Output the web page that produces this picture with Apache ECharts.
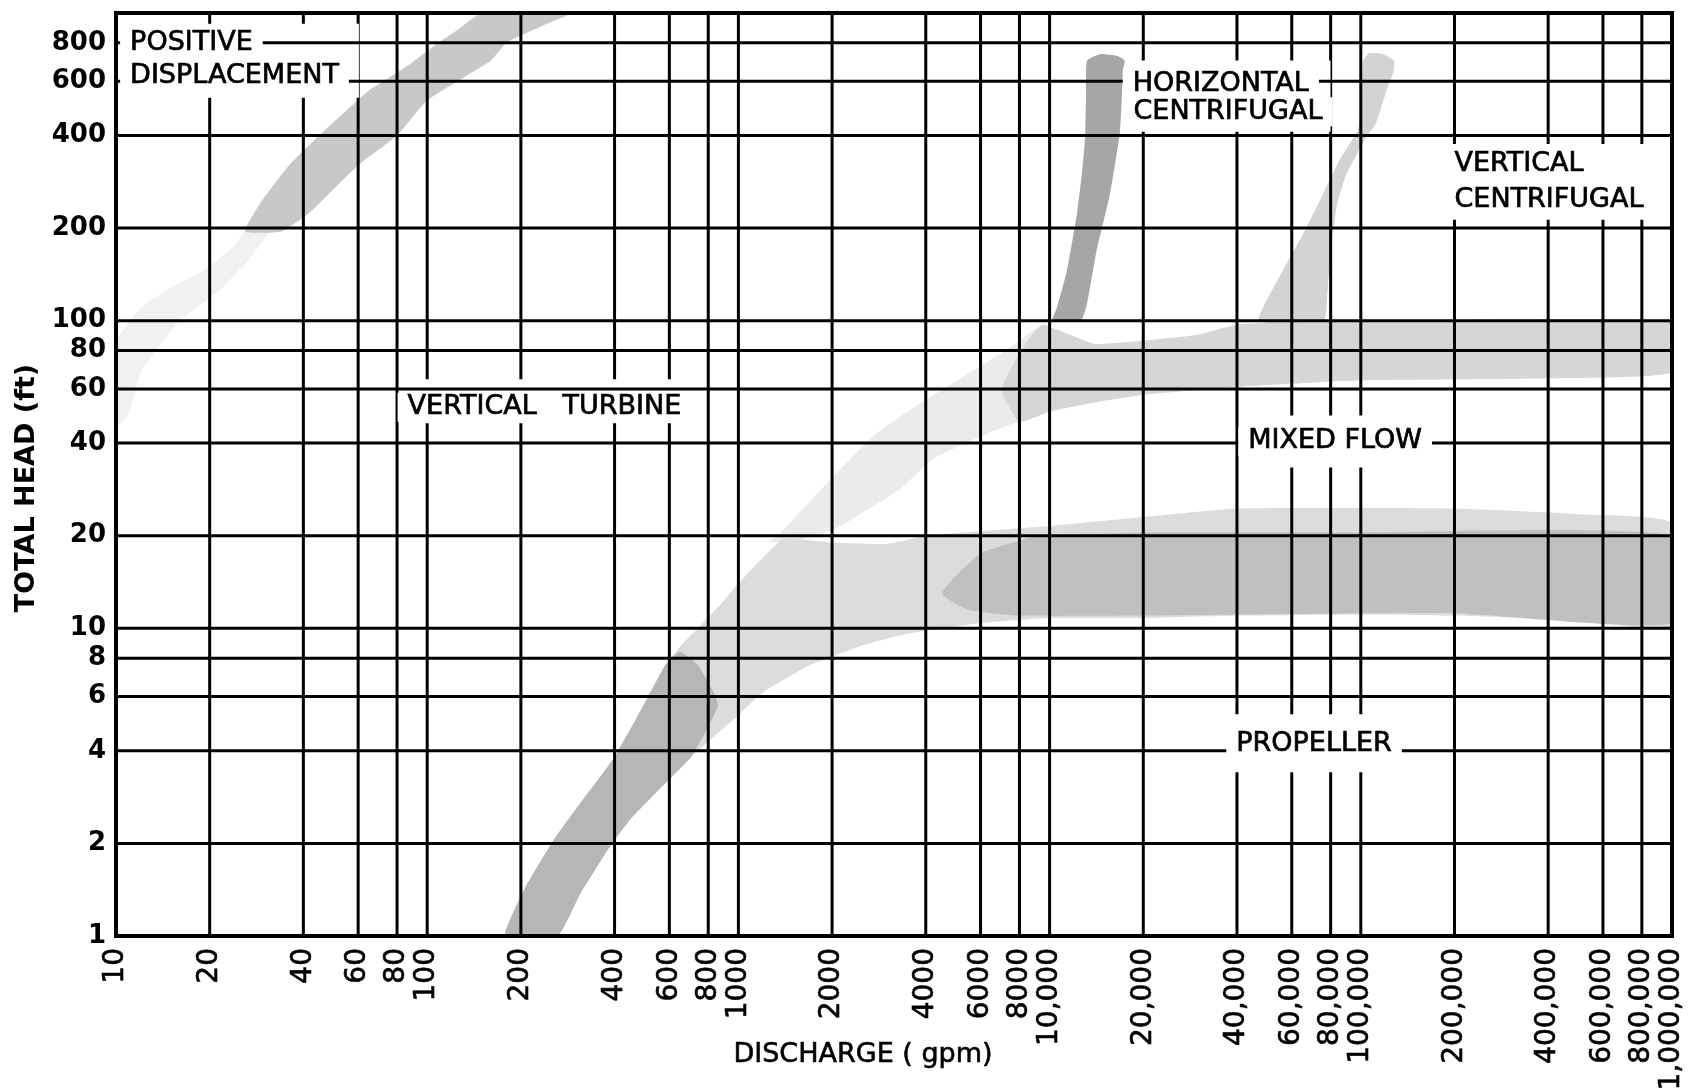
<!DOCTYPE html>
<html>
<head>
<meta charset="utf-8">
<script src="https://cdn.jsdelivr.net/npm/echarts@6/dist/echarts.min.js"></script>
<style>
html,body{margin:0;padding:0;background:#fff;}
#chart{width:1695px;height:1092px;}
</style>
</head>
<body>
<div id="chart"></div>
<script>
// ---------- axis ticks ----------
const xTickValues = [10,20,40,60,80,100,200,400,600,800,1000,2000,4000,6000,8000,10000,20000,40000,60000,80000,100000,200000,400000,600000,800000,1000000];
const xTickLabels = ['10','20','40','60','80','100','200','400','600','800','1000','2000','4000','6000','8000','10,000','20,000','40,000','60,000','80,000','100,000','200,000','400,000','600,000','800,000','1,000,000'];
const yTickValues = [1,2,4,6,8,10,20,40,60,80,100,200,400,600,800];
const yTickLabels = ['1','2','4','6','8','10','20','40','60','80','100','200','400','600','800'];
const xMin = 10, xMax = 1000000, yMin = 1, yMax = 1000;

// ---------- shaded regions: [discharge gpm, total head ft] ----------
const vtBand = [[1250,19],[1376,20.6],[2037,31.5],[2735,42.5],[3500,50.7],[5860,70.2],[7500,82],[8460,90],[9500,97],[11000,92],[14000,84],[20000,86],[30000,90],[40000,97],[60000,99],[100000,99.5],[1000000,99],
  [1000000,68],[400000,65],[100000,64],[40000,61],[30300,59.6],[19950,57.4],[14500,54.6],[10050,50.7],[6950,44.7],[4253,35.7],[3326,28.5],[2037,21],[1600,19.5]];
const vtFlat = [[7000,60],[8500,86],[9500,97],[11000,92],[14000,84],[20000,86],[30000,90],[40000,97],[60000,99],[100000,99.5],[1000000,99],
  [1000000,68],[400000,65],[100000,64],[40000,61],[30300,59.6],[19950,57.4],[14500,54.6],[10050,50.7],[8000,47]];
const propBand = [[178,1],[207,1.44],[255,2.05],[310,2.7],[395,3.75],[469,5.07],[529,6.36],[583,7.6],[661,8.9],[760,10.3],[880,12],[1000,14],[1200,17],[1400,19.5],[2000,19],[3000,18.8],[4000,20],[10000,21.5],[20000,23],[40000,24.5],[100000,24.6],[200000,24.5],[500000,23.5],[1000000,22],
  [1000000,10.2],[500000,10.6],[200000,11],[100000,11.1],[40000,11],[20000,10.8],[10000,10.8],[6000,10.4],[3500,9.6],[2500,8.8],[1700,7.6],[1200,6.2],[995,5.2],[708,3.84],[583,3.14],[447,2.38],[386,1.95],[310,1.37],[262,1]];
const propDenseDiag = [[178,1],[207,1.44],[255,2.05],[310,2.7],[395,3.75],[469,5.07],[529,6.36],[583,7.6],[650,8.4],[740,7.6],[820,6.4],[860,5.6],[708,3.84],[583,3.14],[447,2.38],[386,1.95],[310,1.37],[262,1]];
const propDenseFlat = [[4500,13],[6000,17.5],[9000,19.8],[20000,20.5],[100000,20.5],[1000000,20],[1000000,10.4],[200000,11.2],[20000,11],[8000,11],[5500,11.5]];
const pdTail = [[10,45],[10,85],[12,110],[15,128],[19,145],[24,175],[27,205],[31,195],[27,160],[22,128],[16,100],[12,68],[11,50]];
const pdCore = [[26,195],[29,240],[36,320],[48,425],[65,560],[84,660],[105,780],[125,880],[150,1000],[290,1000],[230,900],[180,800],[160,700],[100,520],[80,400],[60,320],[42,225],[34,195]];
const hcBand = [[10200,100],[10550,110],[11360,145],[12240,222],[12700,300],[13000,393],[13100,550],[13180,700],[14500,735],[16500,725],[17450,700],[17250,663],[16830,412],[15630,258],[14160,169],[13180,113],[12600,100]];
const vcBand = [[47000,100],[55000,140],[65000,190],[73000,240],[85000,330],[98000,420],[101000,560],[102000,700],[106000,740],[118000,735],[128000,700],[127000,640],[121000,560],[112000,440],[102000,380],[90000,300],[84000,240],[80000,170],[78000,120],[76000,100]];

const bands = [vtBand, vtFlat, propBand, propDenseDiag, propDenseFlat, pdTail, pdCore, hcBand, vcBand];
const bandFills = ['#ebebeb','#d6d6d6','#dcdcdc','#b6b6b6','#c0c0c0','#f1f1f1','#c8c8c8','#a6a6a6','#d3d3d3'];

// ---------- annotations ----------
const labelLines = [['POSITIVE','DISPLACEMENT'], ['VERTICAL   TURBINE'], ['HORIZONTAL','CENTRIFUGAL'], ['VERTICAL','CENTRIFUGAL'], ['MIXED FLOW'], ['PROPELLER']];
const labelGpm  = [[11.1,11.1], [86.5], [18500,18600], [200000,200000], [43500], [39800]];
const labelHead = [[800,625], [52.3], [590,478], [323,247], [40.5], [4.2]];

// ---------- style ----------
const LABEL_FONT = '27px "DejaVu Sans"';
const CAP = 20;
const labelBoxPad = [[9,20,12,18],[18,8,6,8],[13,8,10,8],[10,8,10,8],[16,8,16,8],[20,8,18,8]]; // top,right,bottom,left
const TEXT_PAD = 10;

const mctx = document.createElement('canvas').getContext('2d');
function textWidth(t){ mctx.font = LABEL_FONT; return mctx.measureText(t).width; }
function lookup(vals, labels, v){
  for (let i = 0; i < vals.length; i++) if (Math.abs(vals[i]-v)/vals[i] < 1e-6) return labels[i];
  return '';
}
function blockGeom(i, api){
  return labelLines[i].map((t,k) => {
    const p = api.coord([labelGpm[i][k], labelHead[i][k]]);
    return {t, x:p[0], y:p[1], w:textWidth(t)};
  });
}

const chart = echarts.init(document.getElementById('chart'), null, {renderer:'canvas'});
chart.setOption({
  animation: false,
  backgroundColor: '#fff',
  grid: {left:116, right:23, top:13, bottom:156, containLabel:false, outerBoundsMode:'none'},
  xAxis: {
    type:'log', logBase:10, min:xMin, max:xMax,
    axisLine:{show:false}, axisTick:{show:false}, splitLine:{show:false}, minorSplitLine:{show:false},
    axisLabel:{
      customValues:xTickValues, rotate:90, margin:12, fontSize:28, fontFamily:'DejaVu Sans', color:'#000',
      textBorderColor:'#000', textBorderWidth:0.6,
      formatter:(v)=>lookup(xTickValues, xTickLabels, v)
    }
  },
  yAxis: {
    type:'log', logBase:10, min:yMin, max:yMax,
    axisLine:{show:false}, axisTick:{show:false}, splitLine:{show:false}, minorSplitLine:{show:false},
    axisLabel:{
      customValues:yTickValues, margin:10, fontSize:26, fontWeight:'bold', fontFamily:'DejaVu Sans', color:'#000',
      formatter:(v)=>lookup(yTickValues, yTickLabels, v)
    }
  },
  graphic: [
    {type:'text', x:27, y:488, rotation:Math.PI/2, z:100,
     style:{text:'TOTAL HEAD (ft)', font:'bold 27px "DejaVu Sans"', fill:'#000', align:'center', verticalAlign:'middle', textAlign:'center', textVerticalAlign:'middle'}},
    {type:'text', x:863, y:1055, z:100,
     style:{text:'DISCHARGE ( gpm)', font:'27px "DejaVu Sans"', fill:'#000', stroke:'#000', lineWidth:0.6, align:'center', verticalAlign:'middle', textAlign:'center', textVerticalAlign:'middle'}}
  ],
  series: [
    {
      type:'custom', name:'regions', z:1, silent:true, clip:true,
      data: bands.map((b,i)=>[b[0][0], b[0][1], i]),
      encode:{x:0, y:1},
      renderItem:(params, api)=>{
        const i = api.value(2);
        return {type:'polygon', shape:{points:bands[i].map(p=>api.coord(p)), smooth:0.15}, style:{fill:bandFills[i]}};
      }
    },
    {
      type:'custom', name:'vgrid', z:2, silent:true, clip:false,
      data: xTickValues.map(v=>[v, yMin]),
      encode:{x:0, y:1},
      renderItem:(params, api)=>{
        const v = api.value(0);
        const a = api.coord([v, yMin]), b = api.coord([v, yMax]);
        return {type:'line', shape:{x1:a[0], y1:a[1], x2:b[0], y2:b[1]}, style:{stroke:'#000', lineWidth:3}};
      }
    },
    {
      type:'custom', name:'labelGaps', z:3, silent:true, clip:false,
      data: labelLines.map((l,i)=>[labelGpm[i][0], labelHead[i][0], i]),
      encode:{x:0, y:1},
      renderItem:(params, api)=>{
        const i = api.value(2);
        const g = blockGeom(i, api), pad = labelBoxPad[i];
        const left = Math.min(...g.map(o=>o.x)) - pad[3];
        const right = Math.max(...g.map(o=>o.x+o.w)) + pad[1];
        const top = Math.min(...g.map(o=>o.y)) - CAP/2 - pad[0];
        const bottom = Math.max(...g.map(o=>o.y)) + CAP/2 + pad[2];
        return {type:'rect', shape:{x:left, y:top, width:right-left, height:bottom-top}, style:{fill:'#fff'}};
      }
    },
    {
      type:'custom', name:'hgrid', z:4, silent:true, clip:false,
      data: yTickValues.map(v=>[xMin, v]),
      encode:{x:0, y:1},
      renderItem:(params, api)=>{
        const v = api.value(1);
        const a = api.coord([xMin, v]), b = api.coord([xMax, v]);
        return {type:'line', shape:{x1:a[0], y1:a[1], x2:b[0], y2:b[1]}, style:{stroke:'#000', lineWidth:3}};
      }
    },
    {
      type:'custom', name:'labels', z:5, silent:true, clip:false,
      data: labelLines.map((l,i)=>[labelGpm[i][0], labelHead[i][0], i]),
      encode:{x:0, y:1},
      renderItem:(params, api)=>{
        const i = api.value(2);
        const g = blockGeom(i, api);
        return {type:'group', children: g.map(o=>({
          type:'text', x:o.x - TEXT_PAD, y:o.y,
          style:{text:o.t, font:LABEL_FONT, fill:'#000', stroke:'#000', lineWidth:0.7,
                 backgroundColor:'#fff', padding:[1,TEXT_PAD], align:'left', verticalAlign:'middle'}
        }))};
      }
    },
    {
      type:'custom', name:'frame', z:6, silent:true, clip:false,
      data: [[xMin, yMin]],
      encode:{x:0, y:1},
      renderItem:(params, api)=>{
        const a = api.coord([xMin, yMax]), b = api.coord([xMax, yMin]);
        return {type:'rect', shape:{x:a[0], y:a[1], width:b[0]-a[0], height:b[1]-a[1]}, style:{fill:'none', stroke:'#000', lineWidth:4}};
      }
    }
  ]
});
</script>
</body>
</html>
